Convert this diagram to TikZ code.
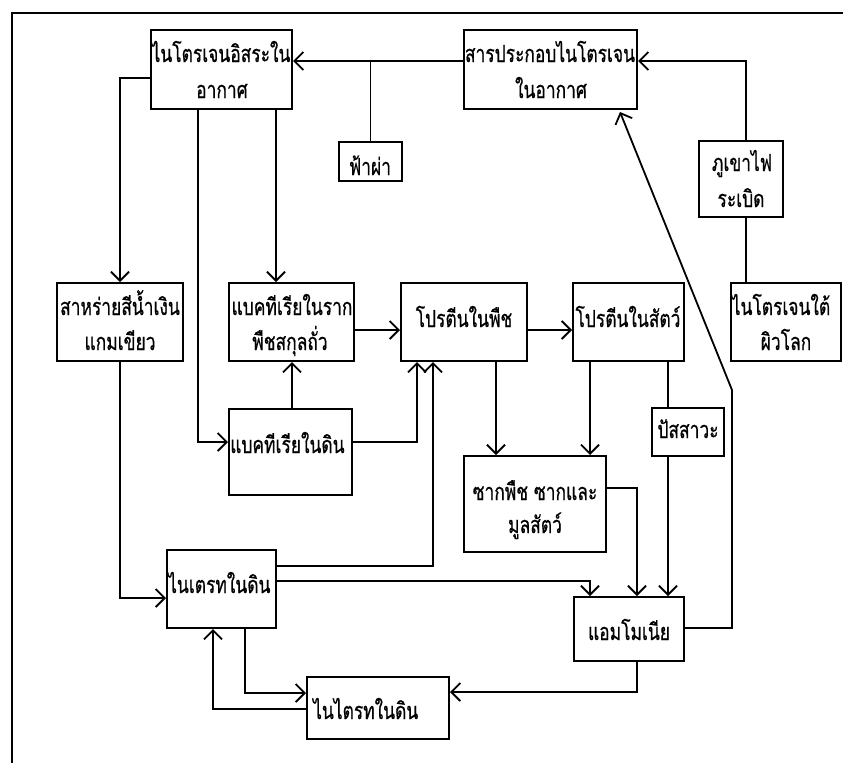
\documentclass[tikz,border=0pt]{standalone}
\usepackage{fontspec}
\newfontfamily\thai[Script=Thai,FakeStretch=0.74,FakeBold=0.6]{Loma}
\usetikzlibrary{arrows.meta}
\begin{document}
\begin{tikzpicture}[x=1pt,y=-1pt,
  box/.style={draw, line width=2pt, inner sep=0pt, rectangle},
  lbl/.style={font=\thai\fontsize{23.5}{26}\selectfont, inner sep=0pt, anchor=base},
  lblw/.style={lbl, anchor=base west},
  conn/.style={line width=1.8pt},
  arr/.style={conn, -{Straight Barb[length=9pt,width=18pt,line width=1.8pt]}}
]
\fill[white] (0,0) rectangle (843,763);
\useasboundingbox (0,0) rectangle (843,763);
% frame
\draw[line width=1.8pt] (843,13) -- (12,13) -- (12,763);
% boxes
\node[box, minimum width=141pt, minimum height=79pt] (n2air) at (221.5,69.5) {};
\node[box, minimum width=173pt, minimum height=79pt] (comp) at (550.5,69.5) {};
\node[box, minimum width=63pt, minimum height=39pt] (light) at (370.5,161.5) {};
\node[box, minimum width=84pt, minimum height=76pt] (volc) at (741,179) {};
\node[box, minimum width=110pt, minimum height=78pt] (under) at (786,322) {};
\node[box, minimum width=126pt, minimum height=78pt] (algae) at (120,322) {};
\node[box, minimum width=125pt, minimum height=78pt] (rootb) at (291.5,322) {};
\node[box, minimum width=126pt, minimum height=78pt] (pplant) at (464,322) {};
\node[box, minimum width=111pt, minimum height=78pt] (panim) at (628.5,322) {};
\node[box, minimum width=123pt, minimum height=86pt] (soilb) at (290.5,452) {};
\node[box, minimum width=72pt, minimum height=48pt] (urine) at (688,432) {};
\node[box, minimum width=142pt, minimum height=96pt] (debris) at (535,504) {};
\node[box, minimum width=109pt, minimum height=78pt] (nitrate) at (221.5,589) {};
\node[box, minimum width=110pt, minimum height=64pt] (ammonia) at (629,629) {};
\node[box, minimum width=142pt, minimum height=62pt] (nitrite) at (378,708) {};
% labels
\node[lbl] (t1a) at (221,62) {ไนโตรเจนอิสระใน};
\node[lbl] (t1b) at (222,98) {อากาศ};
\node[lbl] (t2a) at (550,62) {สารประกอบไนโตรเจน};
\node[lbl] (t2b) at (551,98) {ในอากาศ};
\node[lbl] (t3) at (370,175) {ฟ้าผ่า};
\node[lbl] (t4a) at (742,171) {ภูเขาไฟ};
\node[lbl] (t4b) at (741,207) {ระเบิด};
\node[lbl] (t5a) at (781,315) {ไนโตรเจนใต้};
\node[lbl] (t5b) at (786,350) {ผิวโลก};
\node[lbl] (t6a) at (120,315) {สาหร่ายสีน้ำเงิน};
\node[lbl] (t6b) at (120,350) {แกมเขียว};
\node[lbl] (t7a) at (292,315) {แบคทีเรียในราก};
\node[lbl] (t7b) at (290,350) {พืชสกุลถั่ว};
\node[lbl] (t8) at (464,327) {โปรตีนในพืช};
\node[lbl] (t9) at (628,327) {โปรตีนในสัตว์};
\node[lblw] (t10) at (230,453) {แบคทีเรียในดิน};
\node[lbl] (t11) at (688,438) {ปัสสาวะ};
\node[lbl] (t12a) at (535,500) {ซากพืช ซากและ};
\node[lbl] (t12b) at (535,533) {มูลสัตว์};
\node[lblw] (t13) at (168,593) {ไนเตรทในดิน};
\node[lbl] (t14) at (629,640) {แอมโมเนีย};
\node[lblw] (t15) at (313,719) {ไนไตรทในดิน};
% connectors
\coordinate (diagtip) at (620,112);
\draw[arr] (comp.west |- 0,61) -- (n2air.east |- 0,61);
\draw[conn] (light.north) -- (light.north |- 0,61);
\draw[arr] (volc.north -| 746,0) -- (746,61) -- (comp.east |- 0,61);
\draw[conn] (under.north -| 746,0) -- (volc.south -| 746,0);
\draw[arr] (n2air.west |- 0,78) -- (120,78) -- (algae.north);
\draw[arr] (n2air.south -| 198,0) -- (198,442) -- (soilb.west |- 0,442);
\draw[arr] (n2air.south -| 276,0) -- (rootb.north -| 276,0);
\draw[arr] (rootb.east |- 0,330) -- (pplant.west |- 0,330);
\draw[arr] (pplant.east |- 0,330) -- (panim.west |- 0,330);
\draw[arr] (soilb.north -| 292,0) -- (rootb.south -| 292,0);
\draw[arr] (soilb.east |- 0,442) -- (417,442) -- (pplant.south -| 417,0);
\draw[arr] (nitrate.east |- 0,566) -- (433,566) -- (pplant.south -| 433,0);
\draw[arr] (algae.south) -- (algae.south |- 0,598) -- (nitrate.west |- 0,598);
\draw[arr] (pplant.south -| 496,0) -- (debris.north -| 496,0);
\draw[arr] (panim.south -| 590,0) -- (debris.north -| 590,0);
\draw[conn] (panim.south -| 668,0) -- (urine.north -| 668,0);
\draw[arr] (urine.south -| 668,0) -- (ammonia.north -| 668,0);
\draw[arr] (debris.east |- 0,488) -- (637,488) -- (ammonia.north -| 637,0);
\draw[arr] (nitrate.east |- 0,581) -- (590,581) -- (ammonia.north -| 590,0);
\draw[arr] (ammonia.east |- 0,628) -- (732,628) -- (732,390) -- (diagtip);
\draw[arr] (ammonia.south -| 637,0) -- (637,692) -- (nitrite.east |- 0,692);
\draw[arr] (nitrate.south -| 245,0) -- (245,693) -- (nitrite.west |- 0,693);
\draw[arr] (nitrite.west |- 0,709) -- (213,709) -- (nitrate.south -| 213,0);
\end{tikzpicture}
\end{document}
